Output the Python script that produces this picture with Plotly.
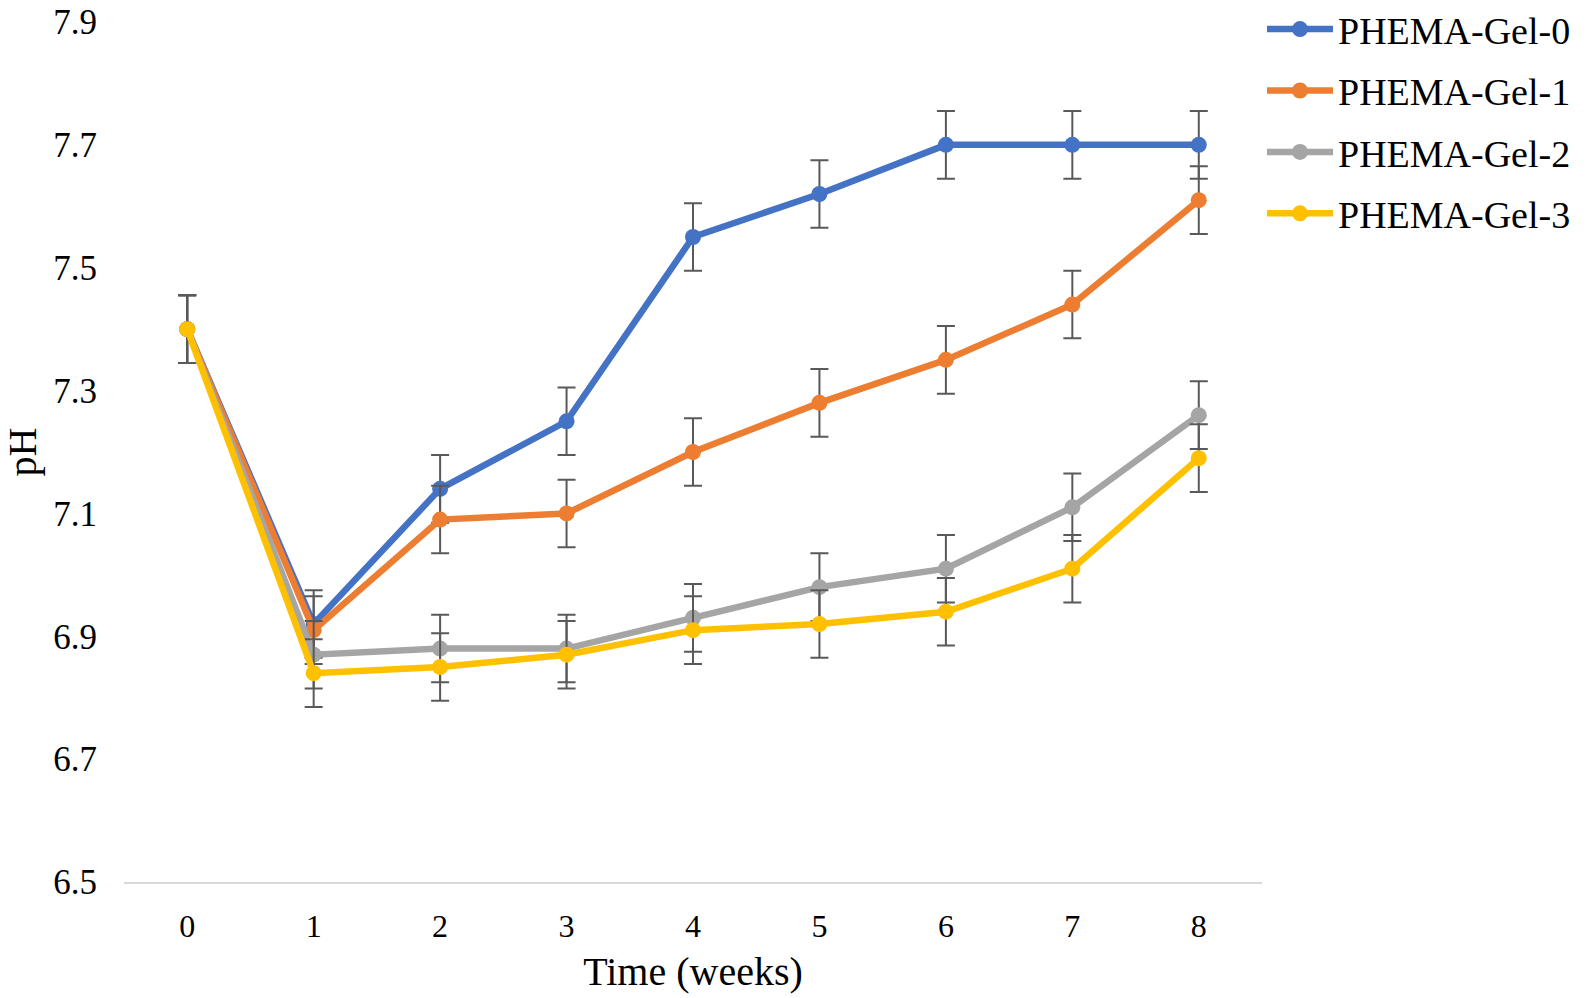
import plotly.graph_objects as go

weeks = [0, 1, 2, 3, 4, 5, 6, 7, 8]
names = ["PHEMA-Gel-0", "PHEMA-Gel-1", "PHEMA-Gel-2", "PHEMA-Gel-3"]
gel0 = [7.40, 6.92, 7.14, 7.25, 7.55, 7.62, 7.70, 7.70, 7.70]
gel1 = [7.40, 6.91, 7.09, 7.10, 7.20, 7.28, 7.35, 7.44, 7.61]
gel2 = [7.40, 6.87, 6.88, 6.88, 6.93, 6.98, 7.01, 7.11, 7.26]
gel3 = [7.40, 6.84, 6.85, 6.87, 6.91, 6.92, 6.94, 7.01, 7.19]
err = [0.055] * 9
colors = ["#4472C4", "#ED7D31", "#A5A5A5", "#FFC000"]
y_ticks = [6.5, 6.7, 6.9, 7.1, 7.3, 7.5, 7.7, 7.9]

FONT = "Liberation Serif, Times New Roman, serif"

fig = go.Figure()
for i, (nm, ys) in enumerate(zip(names, [gel0, gel1, gel2, gel3])):
    fig.add_trace(go.Scatter(
        x=weeks, y=ys, name=nm, mode="lines+markers",
        legendgroup=nm,
        line=dict(color=colors[i], width=6.5),
        marker=dict(color=colors[i], size=16),
        error_y=dict(type="data", array=err, visible=True,
                     color="#595959", thickness=2, width=9),
    ))

fig.update_layout(
    width=1586, height=998,
    margin=dict(l=124, r=324, t=22, b=116, autoexpand=False),
    plot_bgcolor="white", paper_bgcolor="white",
    font=dict(family=FONT, color="black"),
    showlegend=True,
    legend=dict(x=1.0, xanchor="left", y=1.028, yanchor="top",
                font=dict(family=FONT, size=38, color="black"),
                tracegroupgap=9, itemwidth=66,
                bgcolor="rgba(0,0,0,0)"),
)
fig.update_xaxes(
    range=[-0.5, 8.5], tickmode="array", tickvals=weeks,
    ticktext=[str(w) for w in weeks],
    showline=True, linecolor="#D9D9D9", linewidth=2,
    showgrid=False, zeroline=False, ticks="", automargin=True,
    tickfont=dict(family=FONT, size=32, color="black"),
    ticklabelstandoff=15,
    title=dict(text="Time (weeks)", font=dict(family=FONT, size=40, color="black"),
               standoff=14),
)
fig.update_yaxes(
    range=[6.5, 7.9], tickmode="array", tickvals=y_ticks,
    ticktext=[f"{v:.1f}" for v in y_ticks],
    showline=False, showgrid=False, zeroline=False, ticks="", automargin=False,
    tickfont=dict(family=FONT, size=35, color="black"),
    ticklabelstandoff=26, ticklabeloverflow="allow",
    title=dict(text="pH", font=dict(family=FONT, size=40, color="black"),
               standoff=13),
)

fig.write_html(
    "out.html",
    config={"displayModeBar": False},
    post_script="document.body.style.margin='0';"
                "document.documentElement.style.overflow='hidden';",
)
